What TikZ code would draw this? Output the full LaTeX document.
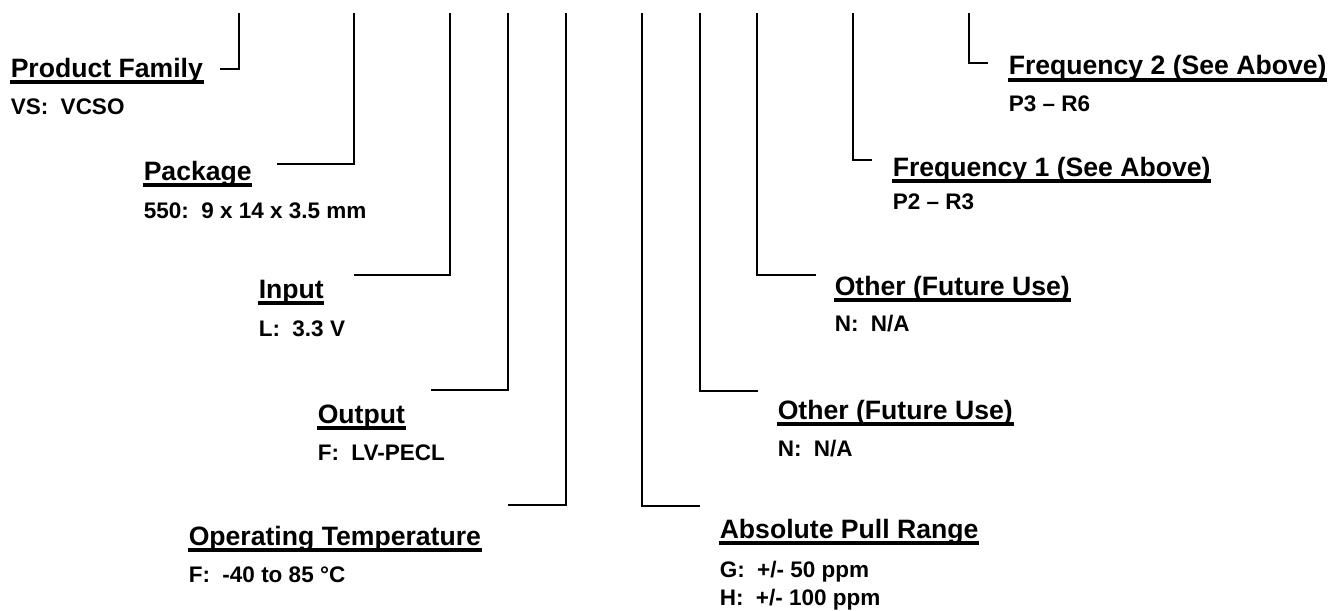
\documentclass[tikz,border=0pt]{standalone}
\usepackage{fontspec}
\setmainfont{Liberation Sans}
\usetikzlibrary{arrows.meta}

\begin{document}
\begin{tikzpicture}[x=0.5pt,y=-0.5pt,line width=0.75pt,
    head/.style={inner sep=0pt,anchor=base west,font=\bfseries\fontsize{13.3}{16}\selectfont},
    sub/.style={inner sep=0pt,anchor=base west,font=\bfseries\fontsize{11.25}{14}\selectfont},
    uline/.style={line width=2pt},
    lead/.style={line width=0.75pt}]
  \useasboundingbox (0,0) rectangle (1336,610);
  % leaders: name / top x / corner y / free end x
  \foreach \n/\x/\y/\e in {fam/239/69/220,pkg/354/164/277,inp/450/275/354,out/508/390/431,
      tmp/566/505/508,pul/642/506/700,othb/700/391/758,otha/757/275/816,
      frqa/853/160/872,frqb/969/63/988}{
    \coordinate (\n-top) at (\x,13);
    \coordinate (\n-end) at (\e,\y);
    \draw[lead] (\n-top) |- (\n-end);
  }
  % left side
  \node[head] (fam) at (10,77) {Product Family};
  \node[sub] (famv) at (10,114) {VS:\ \ VCSO};
  \node[head] (pkg) at (143,180) {Package};
  \node[sub] (pkgv) at (143,218) {550:\ \ 9 x 14 x 3.5 mm};
  \node[head] (inp) at (258,298) {Input};
  \node[sub] (inpv) at (258,336) {L:\ \ 3.3 V};
  \node[head] (out) at (317,423) {Output};
  \node[sub] (outv) at (317,460) {F:\ \ LV-PECL};
  \node[head] (tmp) at (188,545) {Operating Temperature};
  \node[sub] (tmpv) at (188,582) {F:\ \ -40 to 85 °C};
  % right side
  \node[head] (pul) at (719,538) {Absolute Pull Range};
  \node[sub] (pulg) at (719,577) {G:\ \ +/- 50 ppm};
  \node[sub] (pulh) at (719,605) {H:\ \ +/- 100 ppm};
  \node[head] (othb) at (777,419) {Other (Future Use)};
  \node[sub] (othbv) at (777,456) {N:\ \ N/A};
  \node[head] (otha) at (834,295) {Other (Future Use)};
  \node[sub] (othav) at (834,331) {N:\ \ N/A};
  \node[head] (frqa) at (892,176) {Frequency 1 (See Above)};
  \node[sub] (frqav) at (892,209) {P2 – R3};
  \node[head] (frqb) at (1008,75) {Frequency 2 (See Above)};
  \node[sub] (frqbv) at (1008,112) {P3 – R6};
  % underlines
  \foreach \n in {fam,pkg,inp,out,tmp,pul,othb,otha,frqa,frqb}
    \draw[uline] ([yshift=-2.5pt]\n.base west) -- ([yshift=-2.5pt]\n.base east);
\end{tikzpicture}
\end{document}
